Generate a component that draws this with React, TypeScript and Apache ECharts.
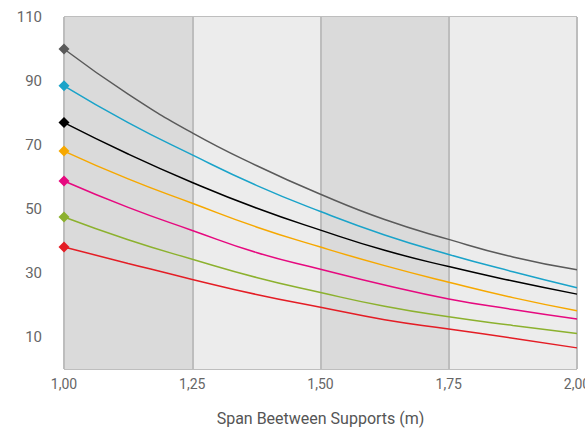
import React, { useEffect, useRef } from "react";
import * as echarts from "echarts";

const spans = [1.0, 1.125, 1.25, 1.375, 1.5, 1.625, 1.75, 1.875, 2.0];
const xTicks = ["1,00", "1,25", "1,50", "1,75", "2,00"];
const yLabels = [10, 30, 50, 70, 90, 110];

const grayLoad = [100, 85.9, 73.8, 63.6, 54.6, 46.7, 40.5, 35.0, 31.0];
const blueLoad = [88.5, 77.0, 66.9, 57.4, 49.2, 41.9, 35.8, 30.4, 25.4];
const blackLoad = [77.0, 67.2, 58.3, 50.3, 43.4, 37.1, 32.0, 27.5, 23.4];
const orangeLoad = [68.1, 59.4, 51.8, 44.4, 38.1, 32.3, 27.1, 22.3, 18.2];
const magentaLoad = [58.75, 50.5, 43.3, 36.4, 31.2, 26.25, 21.9, 18.6, 15.6];
const greenLoad = [47.5, 40.4, 34.3, 28.6, 23.9, 19.6, 16.3, 13.6, 11.1];
const redLoad = [38.1, 33.0, 28.0, 23.3, 19.3, 15.4, 12.5, 9.6, 6.6];

const seriesList = [
  { name: "A", values: grayLoad, color: "#5a5a5a" },
  { name: "B", values: blueLoad, color: "#1aa3c9" },
  { name: "C", values: blackLoad, color: "#000000" },
  { name: "D", values: orangeLoad, color: "#f6a800" },
  { name: "E", values: magentaLoad, color: "#e6097f" },
  { name: "F", values: greenLoad, color: "#8cb12e" },
  { name: "G", values: redLoad, color: "#e41d25" },
];

export default function App() {
  const ref = useRef<HTMLDivElement>(null);
  useEffect(() => {
    if (!ref.current) return;
    const chart = echarts.init(ref.current, undefined, { renderer: "svg" });
    const fontFamily = "Roboto, 'DejaVu Sans', sans-serif";
    chart.setOption({
      animation: false,
      grid: {
        left: 64,
        right: 8,
        top: 17,
        bottom: 61,
        containLabel: false,
        outerBoundsMode: "none",
      },
      xAxis: {
        type: "value",
        min: 1,
        max: 2,
        interval: 0.25,
        name: "Span Beetween Supports (m)",
        nameLocation: "middle",
        nameGap: 41,
        nameTextStyle: { color: "#555555", fontSize: 16, fontFamily },
        axisLine: { show: false },
        axisTick: { show: false },
        axisLabel: {
          color: "#666666",
          fontSize: 14,
          fontFamily,
          margin: 8,
          formatter: (v: number) => {
            const idx = Math.round((v - 1) / 0.25);
            return xTicks[idx] ?? "";
          },
        },
        splitLine: { show: true, lineStyle: { color: "#bdbdbd", width: 2 } },
        splitArea: { show: true, areaStyle: { color: ["#dadada", "#ececec"] } },
      },
      yAxis: {
        type: "value",
        min: 0,
        max: 110,
        interval: 10,
        axisLine: { show: false },
        axisTick: { show: false },
        axisLabel: {
          color: "#666666",
          fontSize: 15,
          fontFamily,
          margin: 22,
          formatter: (v: number) => (yLabels.includes(v) ? String(v) : ""),
        },
        splitLine: { show: true, lineStyle: { color: "#a8a8a8", width: 1.5 } },
      },
      series: seriesList.map((s) => ({
        type: "line",
        name: s.name,
        smooth: true,
        symbol: "none",
        showSymbol: true,
        lineStyle: { color: s.color, width: 1.5 },
        itemStyle: { color: s.color },
        data: spans.map((x, i) =>
          i === 0
            ? { value: [x, s.values[i]], symbol: "diamond", symbolSize: 11 }
            : { value: [x, s.values[i]], symbol: "none" }
        ),
      })),
    });
    return () => chart.dispose();
  }, []);
  return (
    <div
      ref={ref}
      style={{ position: "absolute", left: 0, top: 0, width: 585, height: 430 }}
    />
  );
}
